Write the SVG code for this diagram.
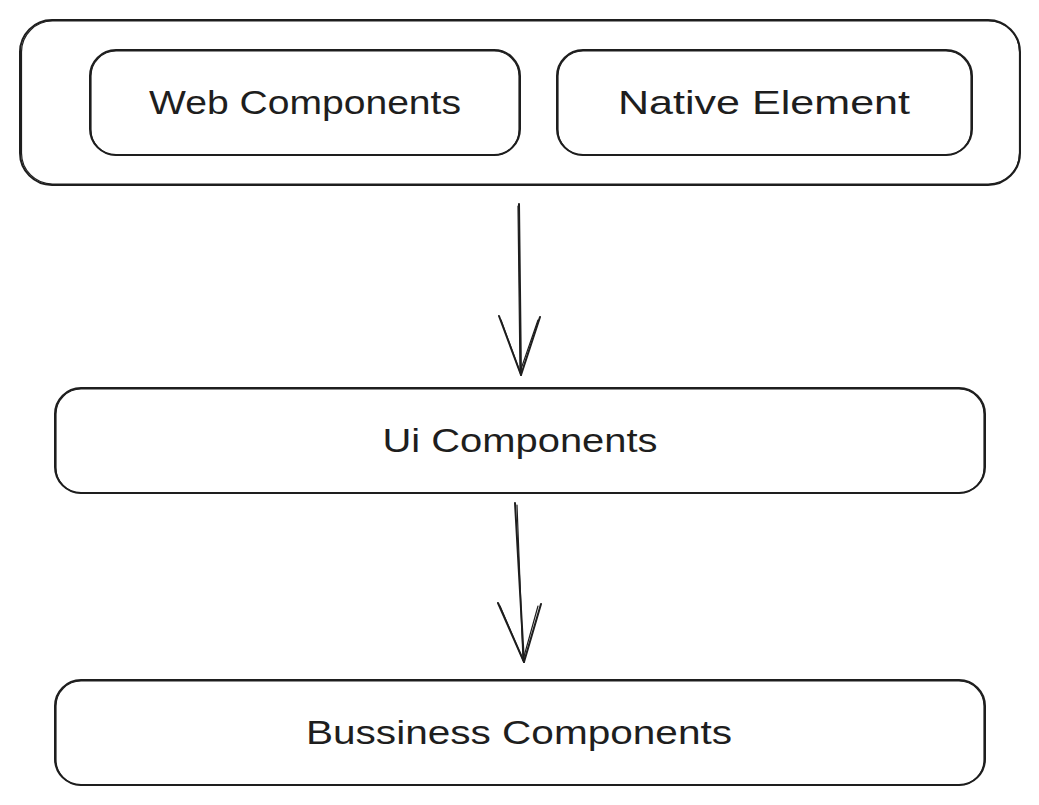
<svg xmlns="http://www.w3.org/2000/svg" width="1039" height="805" viewBox="0 0 1039 805">
<style>
.b{fill:none;stroke:#1e1e1e;stroke-width:2;stroke-linecap:round;stroke-linejoin:round}
.b2{fill:none;stroke:#1e1e1e;stroke-width:1.2;stroke-linecap:round}
.t{font-family:"Liberation Sans","DejaVu Sans",sans-serif;font-size:34px;fill:#1e1e1e;text-anchor:middle;dominant-baseline:central}
</style>
<rect width="1039" height="805" fill="#ffffff"/>
<g id="outer">
<rect class="b" x="20" y="20" width="1000" height="165" rx="32"/>
<rect class="b2" x="21.5" y="21" width="998" height="163" rx="31"/>
</g>
<g id="web">
<rect class="b" x="90" y="50" width="430" height="105" rx="26"/>
<rect class="b2" x="91" y="51" width="428" height="104" rx="25"/>
<text class="t" x="305" y="102" textLength="312" lengthAdjust="spacingAndGlyphs">Web Components</text>
</g>
<g id="native">
<rect class="b" x="557" y="50" width="415" height="105" rx="26"/>
<rect class="b2" x="558" y="51" width="413" height="104" rx="25"/>
<text class="t" x="764" y="102" textLength="292" lengthAdjust="spacingAndGlyphs">Native Element</text>
</g>
<g id="ui">
<rect class="b" x="55" y="388" width="930" height="105" rx="26"/>
<rect class="b2" x="56" y="389" width="928" height="104" rx="25"/>
<text class="t" x="520" y="440" textLength="275" lengthAdjust="spacingAndGlyphs">Ui Components</text>
</g>
<g id="business">
<rect class="b" x="55" y="680" width="930" height="105" rx="26"/>
<rect class="b2" x="56" y="681" width="928" height="104" rx="25"/>
<text class="t" x="519" y="732" textLength="426" lengthAdjust="spacingAndGlyphs">Bussiness Components</text>
</g>
<g id="connectors">
<path class="b" d="M519 204 L521 375"/>
<path class="b2" d="M518 206 L520 372"/>
<path class="b" d="M499 316 L521 375 L540 317"/>
<path class="b2" d="M501 320 L520 372 L538 320"/>
<path class="b" d="M515 503 L524 662"/>
<path class="b2" d="M517 505 L523 660"/>
<path class="b" d="M498 603 L524 662 L541 604"/>
<path class="b2" d="M500 606 L523 660 L538 606"/>
</g>
</svg>
